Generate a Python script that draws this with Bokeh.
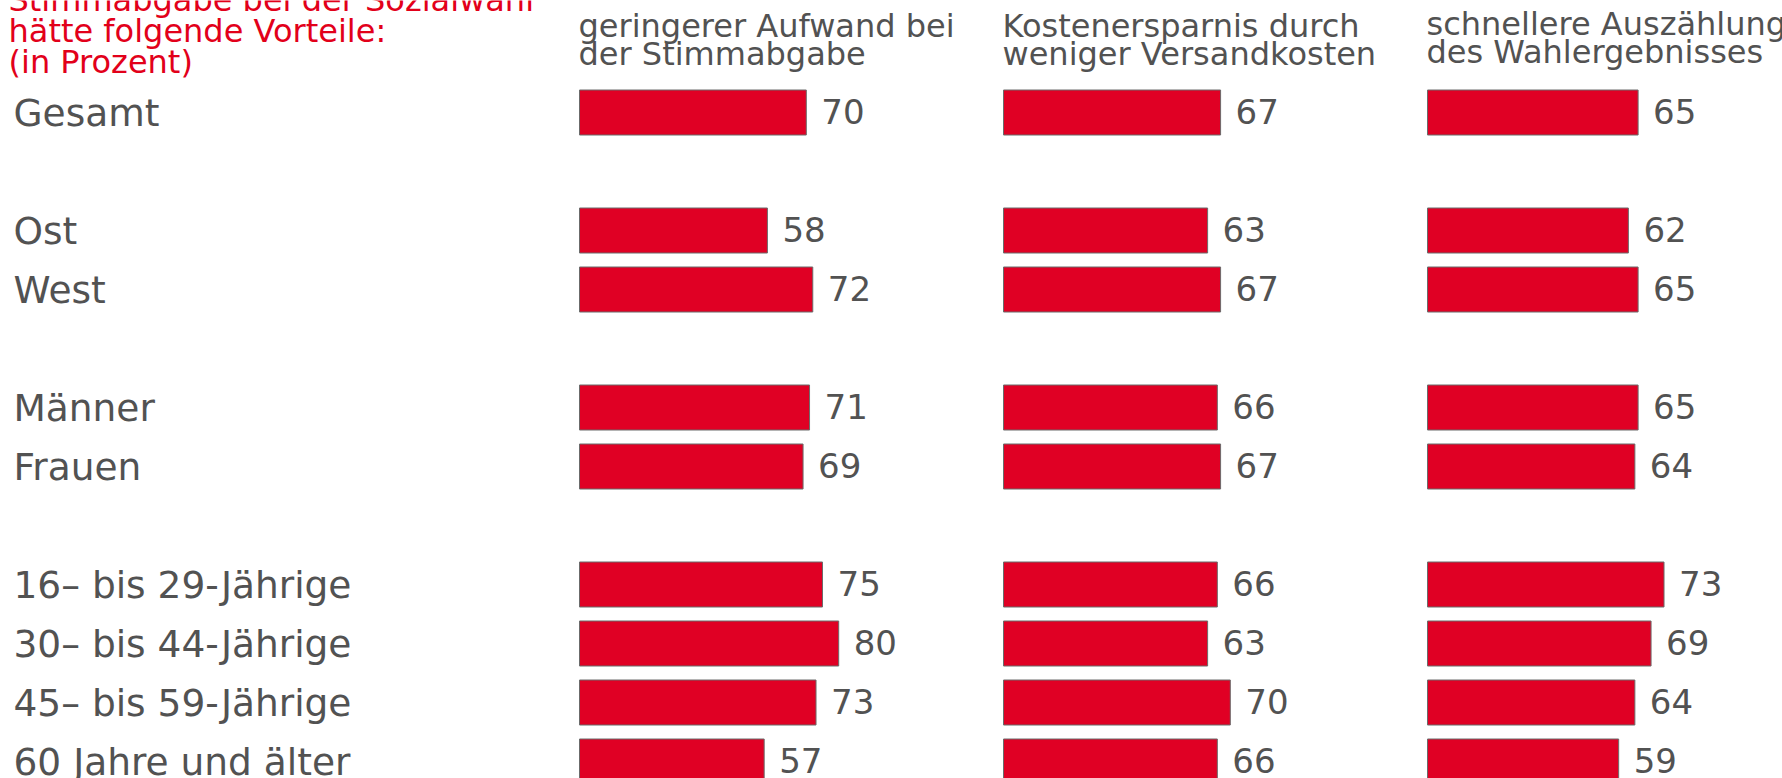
from bokeh.plotting import figure
from bokeh.models import Range1d, GlobalInlineStyleSheet
from bokeh.core.properties import value
from bokeh.embed import file_html
from bokeh.resources import INLINE

# ---------------- data ----------------
groups = [
    ["Gesamt"],
    ["Ost", "West"],
    ["Männer", "Frauen"],
    ["16– bis 29-Jährige", "30– bis 44-Jährige", "45– bis 59-Jährige", "60 Jahre und älter"],
]
aufwand = [70, 58, 72, 71, 69, 75, 80, 73, 57]
kosten = [67, 63, 67, 66, 67, 66, 63, 70, 66]
schneller = [65, 62, 65, 65, 64, 73, 69, 64, 59]
series = [aufwand, kosten, schneller]

headers = [
    ["geringerer Aufwand bei", "der Stimmabgabe"],
    ["Kostenersparnis durch", "weniger Versandkosten"],
    ["schnellere Auszählung", "des Wahlergebnisses"],
]
title_lines = ["Stimmabgabe bei der Sozialwahl", "hätte folgende Vorteile:", "(in Prozent)"]

# ---------------- layout constants ----------------
W, H = 1782, 778
PX = 3.24        # pixels per percentage point
X0 = 579         # pixel of zero for first column
COL_STEP = 424   # pixel distance between columns
ROW0 = 112       # pixel of first row centre
PITCH = 59       # pixel per row slot
DY = -12         # baseline correction for svg text
RED = "#E00024"
GRAY = "#525252"
TITLE_RED = "#E2001A"
FONT = value("DejaVu Sans")


def xd(px):
    return (px - X0) / PX


def yd(py):
    return (py - ROW0) / PITCH


labels, slots = [], []
s = 0
for g in groups:
    for lab in g:
        labels.append(lab)
        slots.append(s)
        s += 1
    s += 1

p = figure(width=W, height=H, output_backend="svg", toolbar_location=None,
           x_range=Range1d(xd(0), xd(W)), y_range=Range1d(yd(H), yd(0)),
           x_axis_location=None, y_axis_location=None, min_border=0)
p.stylesheets = [GlobalInlineStyleSheet(css="html, body { margin: 0; padding: 0; overflow: hidden; }")]
p.grid.visible = False
p.outline_line_color = None
p.background_fill_color = "white"
p.border_fill_color = "white"

for c, vals in enumerate(series):
    off = c * COL_STEP / PX
    rights = [off + v for v in vals]
    p.hbar(y=slots, left=off, right=rights, height=45 / PITCH,
           fill_color=RED, line_color="#6b6b6b", line_width=1)
    p.text(x=rights, y=slots, text=[str(v) for v in vals], x_offset=15, y_offset=11 + DY,
           text_baseline="alphabetic", text_align="left", text_font=FONT,
           text_font_size="34px", text_color=GRAY)
    hx = xd(X0 + c * COL_STEP - 1)
    hy = -2 if c == 2 else 0
    p.text(x=[hx, hx], y=[yd(37 + DY + hy), yd(65 + DY + hy)], text=headers[c],
           text_baseline="alphabetic", text_align="left", text_font=FONT,
           text_font_size="32px", text_color=GRAY)

p.text(x=[xd(13)] * len(labels), y=slots, text=labels, y_offset=12 + DY,
       text_baseline="alphabetic", text_align="left", text_font=FONT,
       text_font_size="37.5px", text_color=GRAY)

p.text(x=[xd(8)] * 3, y=[yd(11 + DY), yd(42 + DY), yd(73 + DY)], text=title_lines,
       text_baseline="alphabetic", text_align="left", text_font=FONT,
       text_font_size="32px", text_color=TITLE_RED)

open("out.html", "w").write(file_html(p, INLINE))
